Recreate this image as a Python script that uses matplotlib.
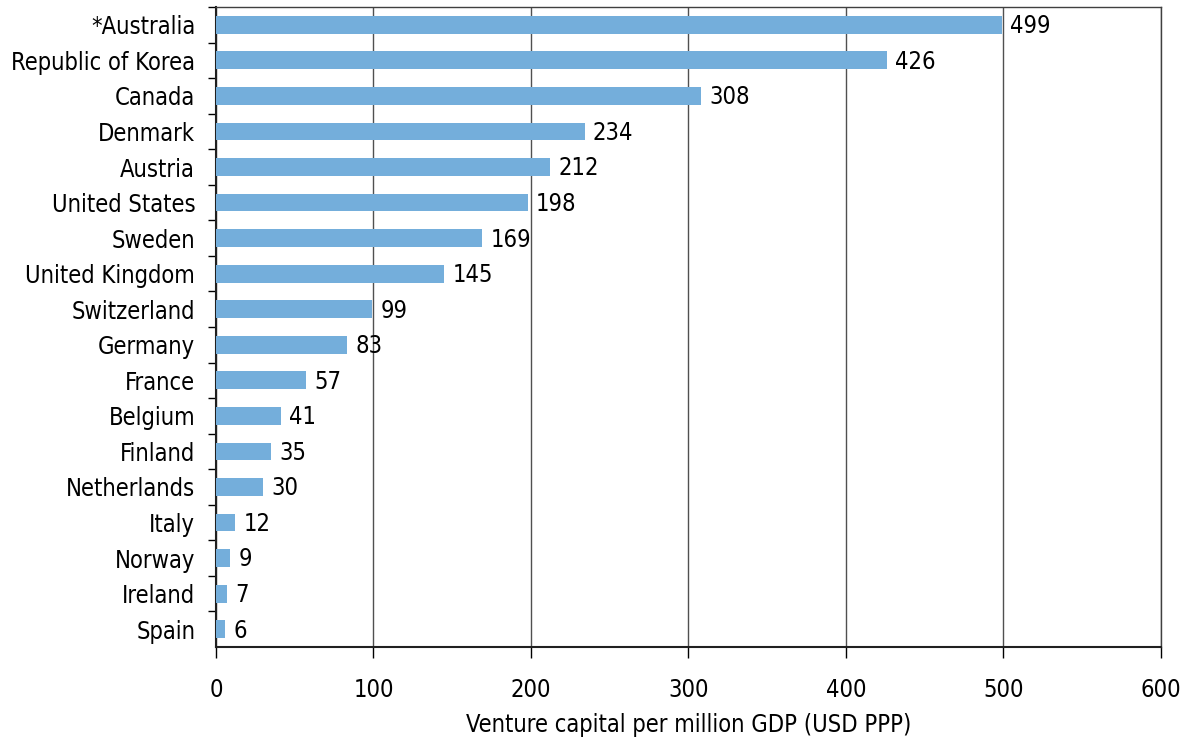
import matplotlib
import matplotlib.pyplot as plt

matplotlib.use("agg")

countries = ["*Australia", "Republic of Korea", "Canada", "Denmark", "Austria",
             "United States", "Sweden", "United Kingdom", "Switzerland", "Germany",
             "France", "Belgium", "Finland", "Netherlands", "Italy", "Norway",
             "Ireland", "Spain"]
values = [499, 426, 308, 234, 212, 198, 169, 145, 99, 83, 57, 41, 35, 30, 12, 9, 7, 6]
x_ticks = [0, 100, 200, 300, 400, 500, 600]
x_label = "Venture capital per million GDP (USD PPP)"

plt.rcParams["font.family"] = ["DejaVu Sans"]
plt.rcParams["font.stretch"] = "condensed"
plt.rcParams["font.size"] = 17

fig = plt.figure(figsize=(11.9, 7.4), dpi=100)
ax = fig.add_axes([0.1815, 0.1257, 0.9756 - 0.1815, 0.9905 - 0.1257])

pos = list(range(len(countries)))
ax.barh(pos, values, height=0.5, color="#74aedb", zorder=3)
for p, v in zip(pos, values):
    ax.annotate(str(v), (v, p), xytext=(6, -1), textcoords="offset points",
                va="center", ha="left", zorder=4)

ax.set_ylim(len(countries) - 0.5, -0.5)
ax.set_xlim(0, 600)
ax.set_yticks(pos)
ax.set_yticklabels(countries)
ax.set_yticks([p + 0.5 for p in pos[:-1]] + [-0.5], minor=True)
ax.tick_params(axis="y", which="major", length=0, pad=15)
ax.tick_params(axis="y", which="minor", length=6, width=1, direction="out")
ax.set_xticks(x_ticks)
ax.tick_params(axis="x", length=8, width=1, direction="out", pad=14)
ax.set_xlabel(x_label, labelpad=8)

ax.grid(axis="x", color="#505050", linewidth=1, zorder=0)
for s in ["top", "right"]:
    ax.spines[s].set_color("#404040")
    ax.spines[s].set_linewidth(1)
for s in ["left", "bottom"]:
    ax.spines[s].set_color("#202020")
    ax.spines[s].set_linewidth(1.5)

fig.savefig("out.png", dpi=100)
